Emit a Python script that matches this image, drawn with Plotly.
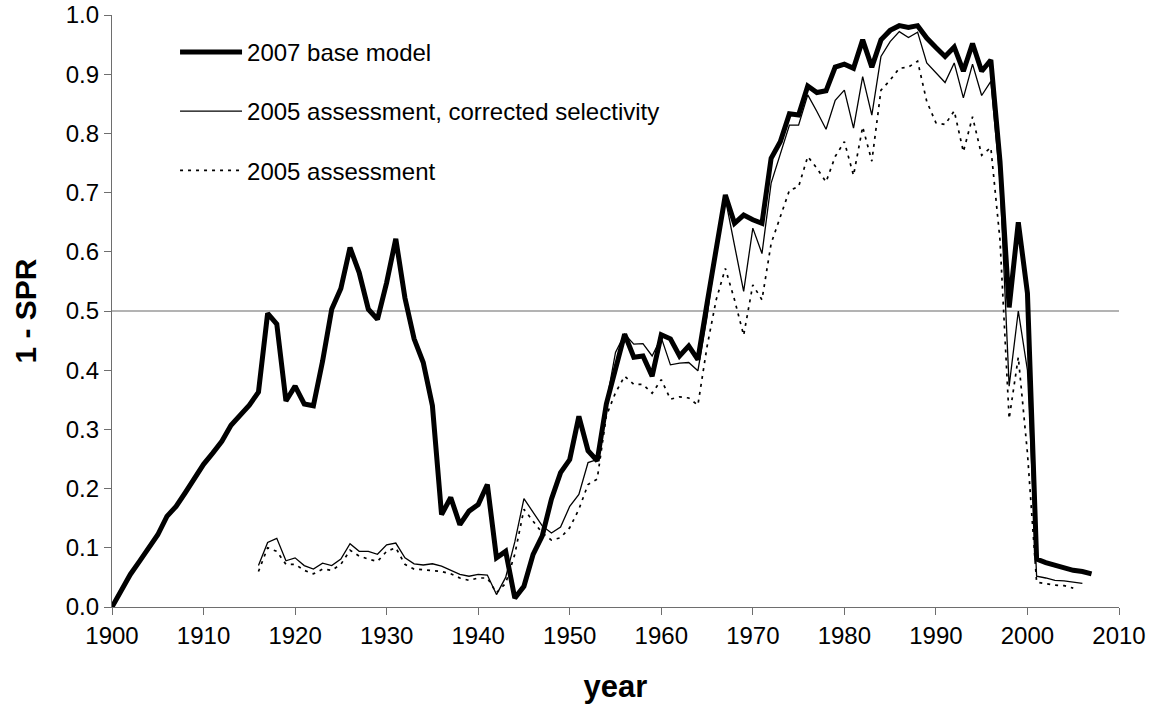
import plotly.graph_objects as go

# ---- data -------------------------------------------------------------
base_years = list(range(1900, 2008))
base_2007 = [
    0.000, 0.027, 0.055, 0.077, 0.100, 0.122, 0.153, 0.170, 0.193, 0.216,
    0.241, 0.260, 0.280, 0.307, 0.323, 0.341, 0.363, 0.496, 0.478, 0.348,
    0.373, 0.343, 0.340, 0.415, 0.503, 0.538, 0.607, 0.565, 0.503, 0.486,
    0.548, 0.622, 0.522, 0.453, 0.413, 0.340, 0.156, 0.185, 0.139, 0.162,
    0.173, 0.207, 0.083, 0.094, 0.015, 0.035, 0.089, 0.120, 0.182, 0.227,
    0.249, 0.322, 0.264, 0.247, 0.343, 0.400, 0.461, 0.422, 0.424, 0.390,
    0.460, 0.453, 0.424, 0.441, 0.418, 0.513, 0.609, 0.696, 0.648, 0.662,
    0.654, 0.648, 0.758, 0.786, 0.833, 0.831, 0.880, 0.869, 0.872, 0.912,
    0.917, 0.910, 0.958, 0.912, 0.958, 0.974, 0.982, 0.979, 0.982, 0.961,
    0.945, 0.930, 0.946, 0.905, 0.952, 0.905, 0.924, 0.753, 0.506, 0.650,
    0.530, 0.081, 0.075, 0.070, 0.067, 0.062, 0.060, 0.056,
]

corrected_years = list(range(1916, 2007))
corrected_2005 = [
    0.070, 0.109, 0.116, 0.078,
    0.083, 0.070, 0.064, 0.074, 0.070, 0.081, 0.107, 0.094, 0.094, 0.089,
    0.105, 0.108, 0.083, 0.073, 0.071, 0.073, 0.069, 0.062, 0.055, 0.052,
    0.055, 0.054, 0.021, 0.050, 0.110, 0.183, 0.159, 0.137, 0.125, 0.135,
    0.170, 0.190, 0.244, 0.249, 0.345, 0.430, 0.461, 0.444, 0.445, 0.424,
    0.455, 0.409, 0.412, 0.413, 0.399, 0.490, 0.603, 0.690, 0.611, 0.533,
    0.640, 0.597, 0.716, 0.766, 0.814, 0.814, 0.865, 0.837, 0.807, 0.856,
    0.873, 0.809, 0.896, 0.831, 0.930, 0.955, 0.972, 0.962, 0.971, 0.919,
    0.903, 0.886, 0.919, 0.860, 0.917, 0.864, 0.888, 0.720, 0.373, 0.500,
    0.400, 0.052, 0.049, 0.045, 0.044, 0.042, 0.040,
]

assess_years = list(range(1916, 2006))
assess_2005 = [
    0.060, 0.100, 0.094, 0.072,
    0.072, 0.062, 0.056, 0.064, 0.062, 0.072, 0.096, 0.086, 0.081, 0.077,
    0.094, 0.100, 0.072, 0.064, 0.063, 0.062, 0.060, 0.056, 0.049, 0.045,
    0.049, 0.049, 0.024, 0.040, 0.089, 0.165, 0.145, 0.125, 0.113, 0.117,
    0.134, 0.165, 0.207, 0.216, 0.323, 0.362, 0.390, 0.376, 0.376, 0.361,
    0.384, 0.351, 0.355, 0.353, 0.341, 0.440, 0.519, 0.572, 0.519, 0.459,
    0.544, 0.519, 0.614, 0.659, 0.704, 0.710, 0.761, 0.741, 0.718, 0.761,
    0.786, 0.729, 0.811, 0.753, 0.873, 0.890, 0.910, 0.912, 0.922, 0.854,
    0.818, 0.815, 0.838, 0.769, 0.828, 0.763, 0.776, 0.620, 0.318, 0.422,
    0.260, 0.042, 0.039, 0.037, 0.036, 0.032,
]

series_names = [
    "2007 base model",
    "2005 assessment, corrected selectivity",
    "2005 assessment",
]
reference_level = 0.5

FONT = "Liberation Sans, Arial, sans-serif"

# ---- figure -----------------------------------------------------------
fig = go.Figure()
fig.add_trace(go.Scatter(
    x=base_years, y=base_2007, mode="lines", name=series_names[0],
    legendgroup="a", line=dict(color="black", width=5),
))
fig.add_trace(go.Scatter(
    x=corrected_years, y=corrected_2005, mode="lines", name=series_names[1],
    legendgroup="b", line=dict(color="black", width=1.3),
))
fig.add_trace(go.Scatter(
    x=assess_years, y=assess_2005, mode="lines", name=series_names[2],
    legendgroup="c", line=dict(color="black", width=1.7, dash="3px,5px"),
))

# horizontal reference at 1 - SPR = 0.5
fig.add_shape(
    type="line", xref="x", yref="y",
    x0=1900, x1=2010, y0=reference_level, y1=reference_level,
    line=dict(color="#9a9a9a", width=1.5), layer="below",
)

axis_common = dict(
    showgrid=False, zeroline=False, showline=True,
    linecolor="#6e6e6e", linewidth=1.3,
    ticks="outside", ticklen=7, tickcolor="#6e6e6e", tickwidth=1.3,
    tickfont=dict(family=FONT, size=24, color="black"),
)

fig.update_layout(
    width=1154, height=712,
    margin=dict(l=112, r=35, t=15, b=105, autoexpand=False),
    paper_bgcolor="white", plot_bgcolor="white",
    font=dict(family=FONT, color="black"),
    showlegend=True,
    legend=dict(
        x=0.0626, y=0.975, xanchor="left", yanchor="top",
        bgcolor="rgba(0,0,0,0)", borderwidth=0,
        font=dict(family=FONT, size=24, color="black"),
        tracegroupgap=25, itemwidth=62,
    ),
    xaxis=dict(
        range=[1900, 2010], dtick=10, tick0=1900,
        title=dict(text="<b>year</b>", font=dict(family=FONT, size=31),
                   standoff=27),
        **axis_common,
    ),
    yaxis=dict(
        range=[0, 1], dtick=0.1, tick0=0, tickformat=".1f",
        title=dict(text="<b>1 - SPR</b>", font=dict(family=FONT, size=30),
                   standoff=20),
        **axis_common,
    ),
)

fig.write_html("out.html")
